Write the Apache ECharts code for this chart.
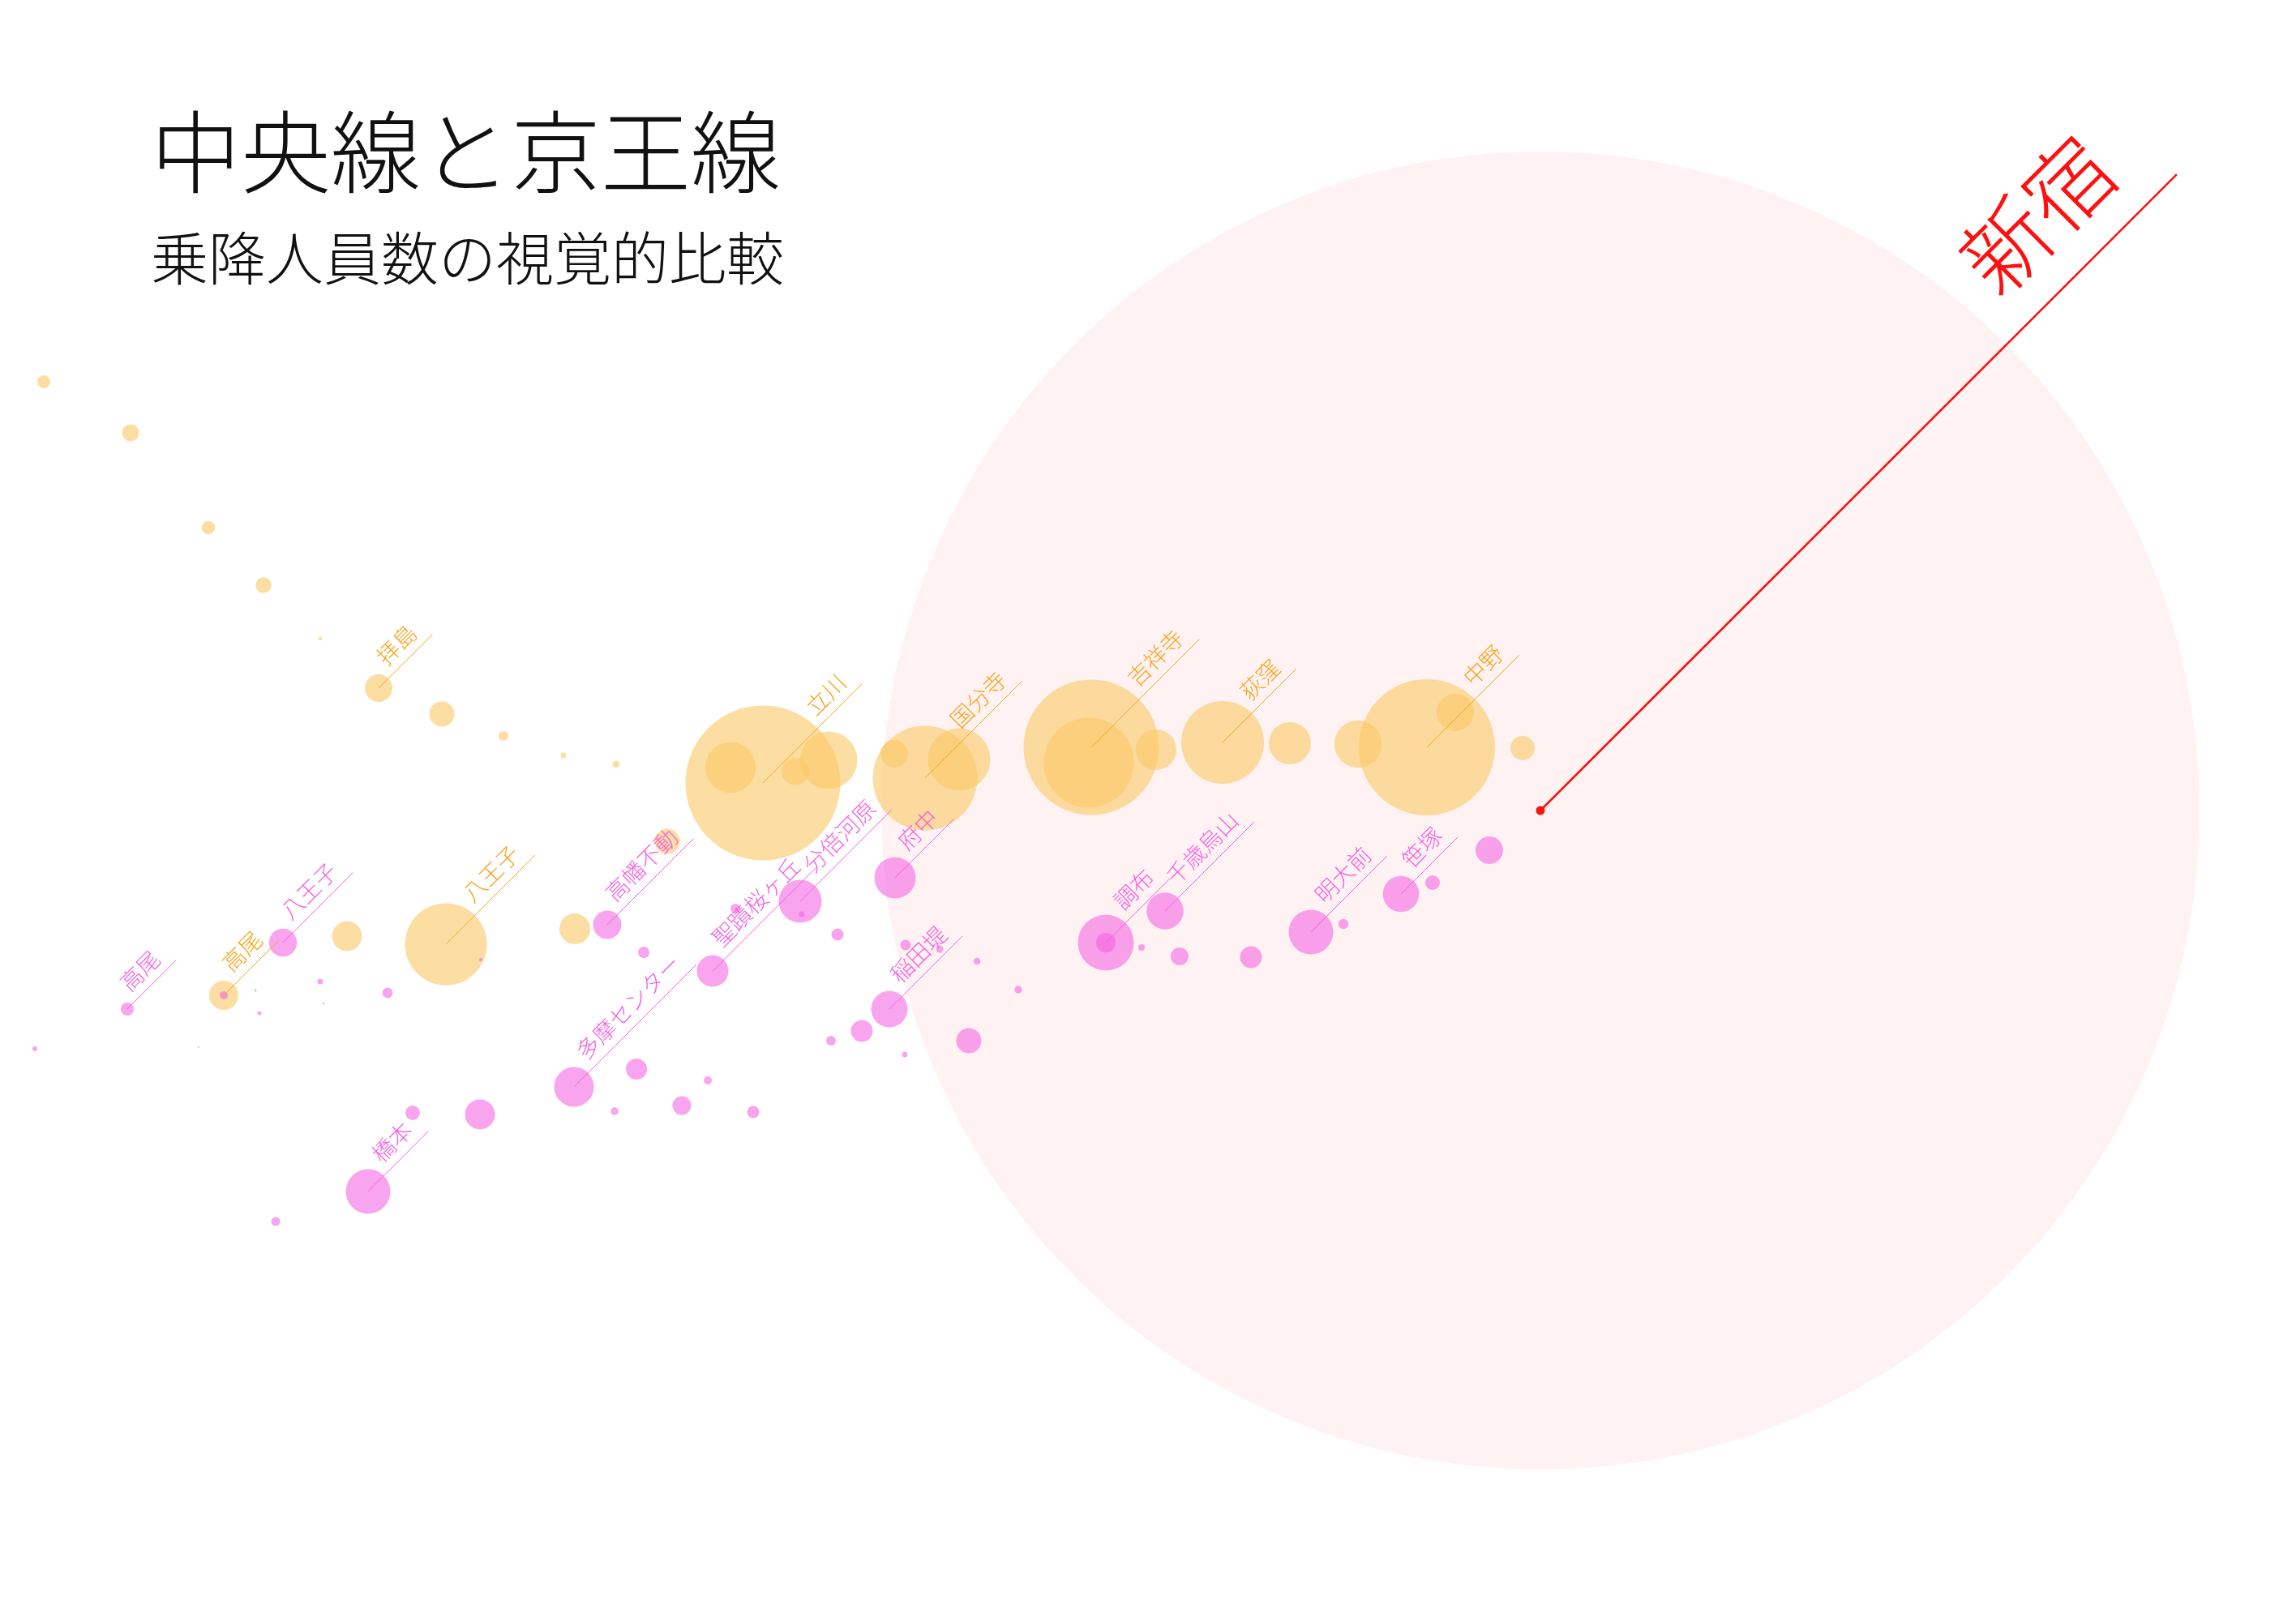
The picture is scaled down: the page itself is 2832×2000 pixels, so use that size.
<!DOCTYPE html>
<html>
<head>
<meta charset="utf-8">
<script src="https://cdn.jsdelivr.net/npm/echarts@6/dist/echarts.min.js"></script>
<style>
html,body{margin:0;padding:0;background:#ffffff;}
#chart{width:2832px;height:2000px;}
</style>
</head>
<body>
<div id="chart"></div>
<script>
// ---- data (positions; riders in thousands) ----
const chuoNames  = ['', '', '', '', '', '拝島', '', '', '', '', '高尾', '', '八王子', '', '', '立川', '', '', '', '', '国分寺', '', '吉祥寺', '', '', '荻窪', '', '', '中野', '', ''];
const chuoX      = [54, 161, 257, 325, 395, 467, 545, 621, 695, 760, 276, 428, 550, 709, 823, 941, 901, 981, 1022, 1103, 1141, 1183, 1346, 1343, 1426, 1508, 1591, 1675, 1760, 1795, 1878];
const chuoY      = [471, 534, 651, 722, 788, 849, 881, 908, 932, 943, 1228, 1155, 1165, 1146, 1038, 966, 947, 952, 938, 930, 960, 937, 922, 941, 925, 916, 917, 918, 922, 879, 923];
const chuoRiders = [12.8, 16.8, 13.2, 15.7, 3.6, 27.2, 24.8, 9.6, 5.6, 6.4, 28.8, 29.6, 80.8, 30.4, 24.8, 152.8, 50, 26.8, 56.8, 27.2, 103.2, 61.6, 133.6, 88.8, 40, 81.6, 41.6, 46.8, 134.4, 36.8, 24];

const keioNames  = ['高尾', '', '八王子', '', '', '', '', '', '', '', '', '橋本', '', '', '', '多摩センター', '', '', '', '', '', '高幡不動', '', '聖蹟桜ヶ丘', '', '分倍河原', '', '', '府中', '稲田堤', '', '', '', '', '', '', '', '', '調布', '', '', '千歳烏山', '', '', '明大前', '', '笹塚', '', ''];
const keioX      = [157, 276, 349, 395, 315, 320, 399, 478, 245, 43, 593, 454, 509, 592, 340, 708, 785, 873, 758, 841, 929, 749, 794, 879, 907, 987, 989, 1033, 1104, 1097, 1117, 1159, 1205, 1256, 1063, 1025, 1116, 1195, 1364, 1364, 1408, 1437, 1455, 1543, 1617, 1657, 1728, 1767, 1837];
const keioY      = [1245, 1228, 1163, 1211, 1222, 1250, 1238, 1225, 1292, 1294, 1184, 1470, 1373, 1375, 1507, 1341, 1319, 1333, 1371, 1364, 1372, 1141, 1175, 1198, 1121, 1112, 1128, 1153, 1083, 1245, 1166, 1171, 1186, 1221, 1272, 1284, 1301, 1284, 1163, 1163, 1169, 1124, 1180, 1181, 1150, 1140, 1103, 1089, 1049];
const keioRiders = [12.8, 8, 27.6, 5.6, 2.4, 4, 2, 10.4, 1.6, 4.8, 3.6, 44, 14.4, 29.6, 8.8, 39.2, 20.8, 8, 7.6, 18.4, 12, 28, 11.2, 31.2, 9.6, 42.4, 5.6, 12, 40.8, 36, 10.4, 7.2, 6.8, 7.6, 21.6, 9.6, 5.6, 24.8, 55.2, 19.2, 6.4, 36.4, 17.6, 21.6, 44, 10, 35.7, 14.4, 27.2];

const hubNames  = ['新宿'];
const hubX      = [1900];
const hubY      = [1000];
const hubRiders = [1300.8];

const titleText = '中央線と京王線';
const subtitleText = '乗降人員数の視覚的比較';

// ---- rendering ----
const PX_PER_K = 1.25;           // bubble diameter in px per thousand riders
const FONT = '"Noto Sans CJK JP Light", "Noto Sans CJK JP", "Noto Sans", sans-serif';

function makeRenderer(cfg) {
  return function (params, api) {
    const pt = api.coord([api.value(0), api.value(1)]);
    const r = api.value(2) * PX_PER_K / 2;
    const name = cfg.names[params.dataIndex];
    const children = [{
      type: 'circle',
      shape: { cx: pt[0], cy: pt[1], r: r },
      style: { fill: cfg.fill },
      z2: cfg.circleZ
    }];
    if (cfg.dot) {
      children.push({
        type: 'circle',
        shape: { cx: pt[0], cy: pt[1], r: cfg.dot },
        style: { fill: cfg.text },
        z2: 120
      });
    }
    if (name) {
      const f = cfg.fontSize;
      const k = Math.SQRT1_2;
      const s0 = r + 0.3 * f;
      const sEnd = s0 + name.length * f + 0.45 * f;
      const off = 0.8 * f;
      children.push({
        type: 'line',
        shape: { x1: pt[0], y1: pt[1], x2: pt[0] + sEnd * k, y2: pt[1] - sEnd * k },
        style: { stroke: cfg.text, lineWidth: cfg.lineWidth },
        z2: 100
      });
      children.push({
        type: 'text',
        x: pt[0] + s0 * k - off * k,
        y: pt[1] - s0 * k - off * k,
        rotation: Math.PI / 4,
        style: {
          text: name,
          fill: cfg.text,
          fontSize: f,
          fontFamily: FONT,
          fontWeight: 300,
          align: 'left',
          verticalAlign: 'middle'
        },
        z2: 110
      });
    }
    return { type: 'group', children: children };
  };
}

function toData(xs, ys, rs) {
  return xs.map((x, i) => [x, ys[i], rs[i]]);
}

const chart = echarts.init(document.getElementById('chart'), null, { renderer: 'canvas' });
chart.setOption({
  backgroundColor: '#ffffff',
  animation: false,
  title: [
    { text: titleText, left: 181, top: 127,
      textStyle: { fontSize: 111, fontWeight: 300, color: '#111', fontFamily: FONT } },
    { text: subtitleText, left: 181, top: 278,
      textStyle: { fontSize: 71, fontWeight: 300, color: '#111', fontFamily: FONT } }
  ],
  grid: { left: 0, right: 0, top: 0, bottom: 0 },
  xAxis: { type: 'value', min: 0, max: 2832, show: false },
  yAxis: { type: 'value', min: 0, max: 2000, inverse: true, show: false },
  series: [
    {
      name: '新宿', type: 'custom', clip: false, silent: true,
      encode: { x: 0, y: 1 },
      renderItem: makeRenderer({ names: hubNames, fill: 'rgba(255,0,0,0.05)', text: '#ff1010',
        fontSize: 108, lineWidth: 2.5, circleZ: -10, dot: 5.5 }),
      data: toData(hubX, hubY, hubRiders)
    },
    {
      name: '中央線', type: 'custom', clip: false, silent: true,
      encode: { x: 0, y: 1 },
      renderItem: makeRenderer({ names: chuoNames, fill: 'rgba(250,200,100,0.6)', text: '#f8a51c',
        fontSize: 28, lineWidth: 1, circleZ: 1 }),
      data: toData(chuoX, chuoY, chuoRiders)
    },
    {
      name: '京王線', type: 'custom', clip: false, silent: true,
      encode: { x: 0, y: 1 },
      renderItem: makeRenderer({ names: keioNames, fill: 'rgba(245,95,225,0.57)', text: '#f562e0',
        fontSize: 28, lineWidth: 1, circleZ: 2 }),
      data: toData(keioX, keioY, keioRiders)
    }
  ]
});
</script>
</body>
</html>
